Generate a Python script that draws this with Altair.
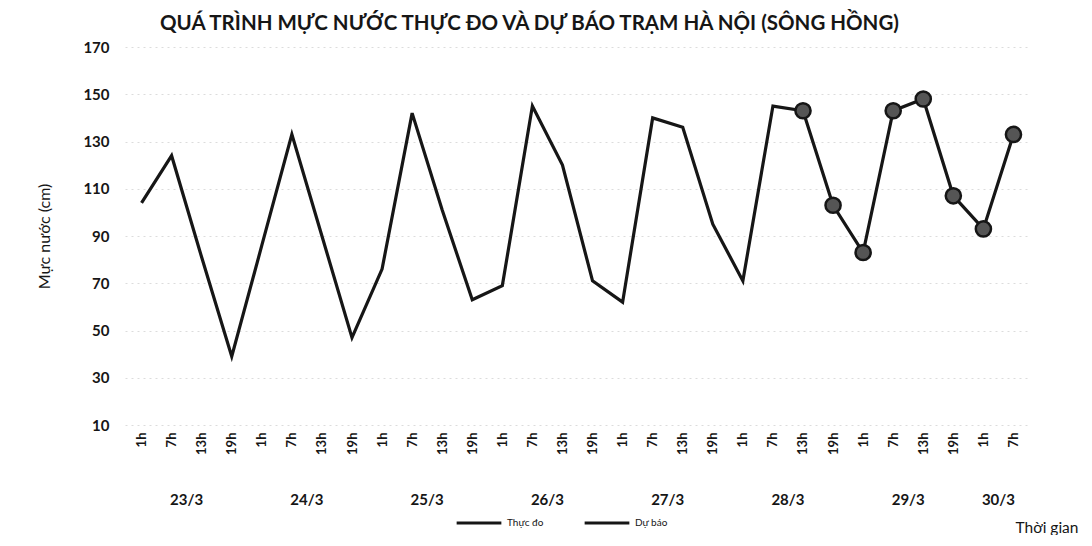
import altair as alt
import pandas as pd

# ---- data ----
hour_labels = ["1h", "7h", "13h", "19h"] * 7 + ["1h", "7h"]
observed = [104, 124, 81, 39, 86, 133, 90, 47, 76, 142, 101, 63, 69, 145,
            120, 71, 62, 140, 136, 95, 71, 145, 143]
forecast_start = 22
forecast = [143, 103, 83, 143, 148, 107, 93, 133]
dates = ["23/3", "24/3", "25/3", "26/3", "27/3", "28/3", "29/3", "30/3"]
date_centers = [1.5, 5.5, 9.5, 13.5, 17.5, 21.5, 25.5, 28.5]
y_ticks = [10, 30, 50, 70, 90, 110, 130, 150, 170]

FONT = "Lato"
INK = "#161616"

rows = []
for i, v in enumerate(observed):
    rows.append({"idx": i, "level": v, "series": "Thực đo"})
for k, v in enumerate(forecast):
    rows.append({"idx": forecast_start + k, "level": v, "series": "Dự báo"})
df = pd.DataFrame(rows)
df_fc = df[df["series"] == "Dự báo"]
df_dates = pd.DataFrame({"idx": date_centers, "date": dates})

label_expr = "[" + ",".join("'%s'" % h for h in hour_labels) + "][datum.value]"

x_scale = alt.Scale(domain=[-0.55, len(hour_labels) - 0.45], nice=False, zero=False)
y_scale = alt.Scale(domain=[10, 170], nice=False, zero=False)

x_axis = alt.Axis(
    values=list(range(len(hour_labels))), labelExpr=label_expr,
    labelAngle=-90, labelFontSize=13, labelFontWeight="bold", labelColor=INK,
    labelPadding=7, labelOverlap=False, labelFont=FONT,
    ticks=False, domain=False, grid=False,
    title="Thời gian", titleFont=FONT, titleFontSize=15.5, titleFontWeight="normal",
    titleColor=INK, titleAlign="left", titleBaseline="middle",
    titleX=890, titleY=102,
)
y_axis = alt.Axis(
    values=y_ticks, labelFontSize=15, labelFontWeight="bold", labelColor=INK,
    labelPadding=16, labelFont=FONT, ticks=False, domain=False,
    grid=True, gridColor="#dcdcdc", gridDash=[2, 4], gridWidth=1,
    title="Mực nước (cm)", titleFont=FONT, titleFontSize=16, titleFontWeight="normal",
    titleColor=INK, titlePadding=30,
)

x_enc = alt.X("idx:Q", scale=x_scale, axis=x_axis)
y_enc = alt.Y("level:Q", scale=y_scale, axis=y_axis)

lines = alt.Chart(df).mark_line(strokeWidth=3.2, strokeJoin="miter").encode(
    x=x_enc, y=y_enc,
    color=alt.Color(
        "series:N",
        scale=alt.Scale(domain=["Thực đo", "Dự báo"], range=[INK, INK]),
        legend=alt.Legend(
            title=None, orient="none", legendX=330, legendY=452, direction="horizontal",
            symbolType="stroke", symbolSize=2000, symbolStrokeWidth=3,
            labelFontSize=10, labelFont=FONT, labelColor=INK, labelOffset=4,
            columnPadding=34,
        ),
    ),
)

points = alt.Chart(df_fc).mark_point(
    filled=True, size=230, fill="#555555", stroke=INK, strokeWidth=2.5, opacity=1
).encode(x=x_enc, y=y_enc)

date_text = alt.Chart(df_dates).mark_text(
    fontSize=15, font=FONT, fontWeight="bold", color=INK, baseline="middle", align="center"
).encode(x=x_enc, y=alt.value(453), text="date:N")

chart = alt.layer(lines, points, date_text).properties(
    width=905, height=378,
    background="white",
    title=alt.TitleParams(
        "QUÁ TRÌNH MỰC NƯỚC THỰC ĐO VÀ DỰ BÁO TRẠM HÀ NỘI (SÔNG HỒNG)",
        font=FONT, fontSize=20.5, fontWeight="bold", color=INK,
        anchor="start", dx=35, offset=6, frame="group",
    ),
    autosize="none",
    padding={"left": 117, "top": 39, "right": 54, "bottom": 110},
).configure_view(stroke=None)

chart.save("out.html", embed_options={"renderer": "svg", "actions": False})
